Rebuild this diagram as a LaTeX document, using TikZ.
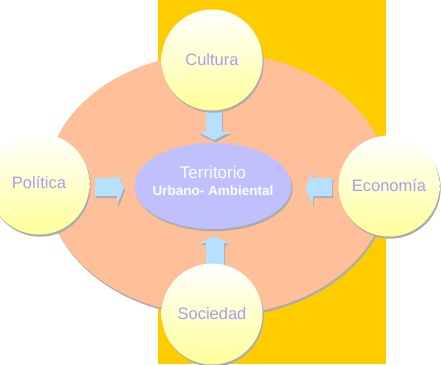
\documentclass[tikz,border=0pt]{standalone}
\usepackage{fontspec}
\setmainfont{Liberation Sans}
\usetikzlibrary{shadows,shapes.geometric}
\definecolor{gold}{HTML}{FFCC00}
\definecolor{salmon}{HTML}{FFBF99}
\definecolor{lav}{HTML}{C0C0FF}
\definecolor{txt}{HTML}{A99CF2}
\definecolor{arrowblue}{HTML}{B5E0FF}
\definecolor{lightyel}{HTML}{FFFF99}
\begin{document}
\begin{tikzpicture}[x=1pt,y=-1pt,
  shad/.style={drop shadow={shadow xshift=1.2pt,shadow yshift=-2.2pt,fill=gray!65,opacity=1}},
  topic/.style={circle, minimum size=101pt, inner sep=0pt, top color=white, bottom color=lightyel, shad, text=txt, font=\fontsize{16.5}{18}\selectfont},
  blockarrow/.style={fill=arrowblue, shad}]
\useasboundingbox (0,0) rectangle (441,364);
\clip (0,0) rectangle (441,364);
\fill[gold] (158,0) rectangle (386,364);
\fill[salmon, shad] (217,184) ellipse [x radius=171, y radius=131];
% block arrows
\path[blockarrow] (206,106) -- (222,106) -- (222,132) -- (230,132) -- (214,140) -- (198,132) -- (206,132) -- cycle;
\path[blockarrow] (95,178) -- (117,178) -- (117,172) -- (124,188) -- (117,205) -- (117,196) -- (95,196) -- cycle;
\path[blockarrow] (332,178) -- (313,178) -- (313,172) -- (305,188) -- (313,205) -- (313,196) -- (332,196) -- cycle;
\path[blockarrow] (206,268) -- (224,268) -- (224,243) -- (229,243) -- (214,236) -- (199,243) -- (206,243) -- cycle;
% centre
\node[ellipse, minimum width=157pt, minimum height=86pt, inner sep=0pt, fill=lav, shad] (terr) at (213,186) {};
\node[text=white, inner sep=0pt, font=\fontsize{17}{19}\selectfont] (terrtop) at (213,172) {Territorio};
\node[text=white, inner sep=0pt, font=\bfseries\fontsize{13.5}{15}\selectfont] (terrbot) at (213,191) {Urbano- Ambiental};
% topics
\node[topic] (cul) at (212,60) {Cultura};
\node[topic] (pol) at (39,184) {\raisebox{3pt}{Política}};
\node[topic] (eco) at (389,186) {\raisebox{2pt}{Economía}};
\node[topic] (soc) at (212,314) {Sociedad};
\end{tikzpicture}
\end{document}
